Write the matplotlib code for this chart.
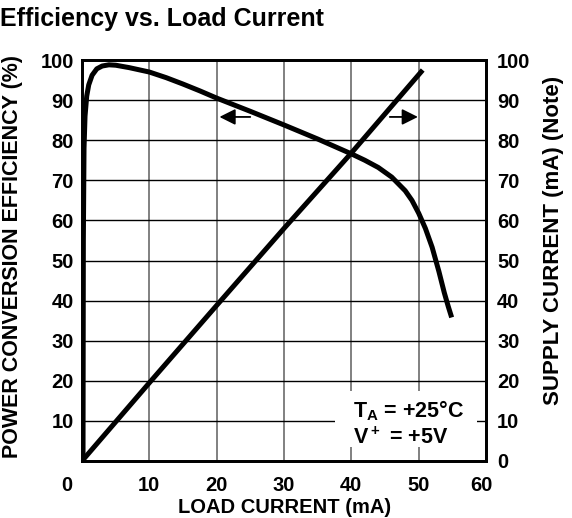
import matplotlib
matplotlib.use("Agg")
import matplotlib.pyplot as plt
from matplotlib.patches import Rectangle
from matplotlib.transforms import ScaledTranslation

plt.rcParams['font.family'] = ['Liberation Sans', 'DejaVu Sans']
plt.rcParams['font.weight'] = 'bold'
plt.rcParams['mathtext.fontset'] = 'custom'
plt.rcParams['mathtext.rm'] = 'Liberation Sans:bold'
plt.rcParams['mathtext.bf'] = 'Liberation Sans:bold'

# efficiency curve (left axis, %)
load_eff = [0.15, 0.2, 0.3, 0.45, 0.7, 1.0, 1.5, 2.2, 3.0, 4.0, 5.0, 7.0, 10, 12.5, 15, 17.5,
            20, 25, 30, 35, 40, 42, 44, 46, 48, 49, 50, 51, 52, 53, 53.8, 54.4, 54.9]
efficiency = [0, 55, 78, 86, 91, 93.8, 96.2, 97.8, 98.5, 98.8, 98.7, 98.1, 97, 95.6, 94, 92.3,
              90.5, 87.2, 83.8, 80.3, 76.6, 75, 73.2, 70.8, 67.4, 65, 61.8, 58, 53.3, 47.3, 42, 38.5, 35.8]

# supply current (right axis, mA)
load_sup = [0, 10, 20, 30, 40, 50.6]
supply = [0, 19.5, 38.8, 58, 76.8, 97.5]

x_ticks = [0, 10, 20, 30, 40, 50, 60]
left_ticks = [10, 20, 30, 40, 50, 60, 70, 80, 90, 100]
right_ticks = [0, 10, 20, 30, 40, 50, 60, 70, 80, 90, 100]

fig = plt.figure(figsize=(5.72, 5.18), dpi=100)
ax = fig.add_axes([82/572, 57/518, 404/572, 401/518])
ax.set_xlim(0, 60)
ax.set_ylim(0, 100)
ax.set_xticks(x_ticks)
ax.set_yticks(left_ticks)
ax.tick_params(length=0, labelsize=14.5, pad=6)
ax.tick_params(axis='x', pad=11)
ax.xaxis.grid(True, color='#808080', lw=1.4)
ax.yaxis.grid(True, color='black', lw=1.0)
ax.set_axisbelow(True)
for s in ax.spines.values():
    s.set_linewidth(2.0)

# nudge first and last x labels like the original
labels = ax.get_xticklabels()
labels[0].set_transform(labels[0].get_transform() + ScaledTranslation(-0.15, 0, fig.dpi_scale_trans))
labels[-1].set_transform(labels[-1].get_transform() + ScaledTranslation(-0.05, 0, fig.dpi_scale_trans))

ax2 = ax.twinx()
ax2.set_ylim(0, 100)
ax2.set_yticks(right_ticks)
ax2.tick_params(length=0, labelsize=14.5, pad=8)
for s in ax2.spines.values():
    s.set_linewidth(2.0)

ax.plot(load_eff, efficiency, color='black', lw=3.6, solid_capstyle='butt', zorder=5)
ax.plot(load_sup, supply, color='black', lw=3.6, solid_capstyle='butt', zorder=5)

# direction arrows
ax.annotate('', xy=(20, 85.8), xytext=(25.4, 85.8),
            arrowprops=dict(arrowstyle='-|>', color='black', lw=1.3, mutation_scale=24), zorder=6)
ax.annotate('', xy=(50.3, 85.8), xytext=(45.3, 85.8),
            arrowprops=dict(arrowstyle='-|>', color='black', lw=1.3, mutation_scale=24), zorder=6)

# conditions box (white patch hides the grid behind the text)
ax.add_patch(Rectangle((37.6, 3.5), 21.1, 14, facecolor='white', edgecolor='none', zorder=2))
ax.text(40.3, 12.5, 'T$_{\\rm A}$ = +25°C', fontsize=15.5, fontweight='bold',
        ha='left', va='center', zorder=4)
ax.text(40.3, 5.6, 'V$^{\\rm +}$ = +5V', fontsize=15.5, fontweight='bold',
        ha='left', va='center', zorder=4)

fig.text(0.0, 0.963, 'Efficiency vs. Load Current', fontsize=18, fontweight='bold',
         ha='left', va='center')
fig.text(0.022, 0.505, 'POWER CONVERSION EFFICIENCY (%)', fontsize=15.5, fontweight='bold',
         rotation=90, ha='center', va='center')
fig.text(0.967, 0.535, 'SUPPLY CURRENT (mA) (Note)', fontsize=16, fontweight='bold',
         rotation=90, ha='center', va='center')
fig.text(0.497, 0.021, 'LOAD CURRENT (mA)', fontsize=14.5, fontweight='bold',
         ha='center', va='center')

fig.savefig('out.png', dpi=100)
